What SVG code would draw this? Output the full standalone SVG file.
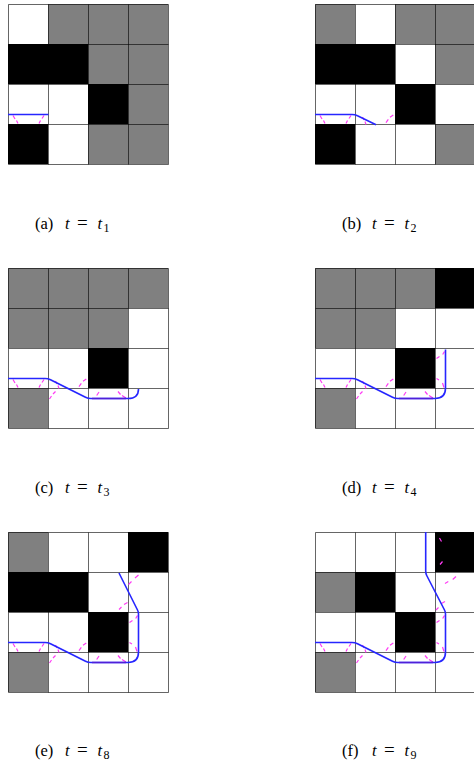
<svg xmlns="http://www.w3.org/2000/svg" width="474" height="761" viewBox="0 0 474 761">
<style>
.bg{fill:#fff}
.g{fill:#808080}
.k{fill:#000}
.grid{fill:none;stroke:#000;stroke-opacity:0.6;stroke-width:1}
.path{fill:none;stroke:#2626ff;stroke-width:1.6;stroke-linejoin:round;stroke-linecap:butt}
.pb{fill:none;stroke:#5020d8;stroke-width:1.6}
.m{fill:none;stroke:#ff3cf4;stroke-width:1.2}
.lbl{font-family:"Liberation Serif","Times New Roman",serif;font-size:16.5px;fill:#000}
.it{font-style:italic}
.eq{font-size:19px}
.sub{font-size:12px}
</style>
<defs>
<path id="gridlines" class="grid" d="M0.5,0.5 H160.5 M0.5,40.5 H160.5 M0.5,80.5 H160.5 M0.5,120.5 H160.5 M0.5,160.5 H160.5 M0.5,0.5 V160.5 M40.5,0.5 V160.5 M80.5,0.5 V160.5 M120.5,0.5 V160.5 M160.5,0.5 V160.5"/>
<path id="mA" class="m" d="M5,111.5 L7,115 M8.5,116.5 L10,119.5 M31,119.5 L32.5,116.5 M34,114.5 L36,111.5"/>
<path id="mB" class="m" d="M47.5,113 L49,116 M50,117.5 L51,120.5 M71,118.7 L73.3,115.3 M75,113.3 L78.3,111"/>
<path id="mC" class="m" d="M41.5,131 L43.5,128 M45,126 L47.5,123.5 M88.7,127.5 L91,124 M110,123.5 L112.5,126.5 M114,127.5 L118,130"/>
<path id="mD" class="m" d="M121.5,90.5 L124.5,88.5 M127.7,86.5 L129.5,83.5 M121.5,110.5 L124,112 M127.5,115 L129,119.5"/>
</defs>

<g id="frame-a" transform="translate(8,4)">
<rect class="bg" x="0" y="0" width="160" height="160"/>
<rect class="g" x="40" y="0" width="120" height="40"/>
<rect class="k" x="0" y="40" width="80" height="40"/>
<rect class="g" x="80" y="40" width="80" height="40"/>
<rect class="k" x="80" y="80" width="40" height="40"/>
<rect class="g" x="120" y="80" width="40" height="40"/>
<rect class="k" x="0" y="120" width="40" height="40"/>
<rect class="g" x="80" y="120" width="80" height="40"/>
<use href="#gridlines"/>
<g class="connectors">
<use href="#mA"/>
<path class="path" d="M0,110.5 H40.5"/>
</g>
</g>

<g id="frame-b" transform="translate(315,4)">
<rect class="bg" x="0" y="0" width="160" height="160"/>
<rect class="g" x="0" y="0" width="40" height="40"/>
<rect class="g" x="80" y="0" width="80" height="40"/>
<rect class="k" x="0" y="40" width="80" height="40"/>
<rect class="g" x="120" y="40" width="40" height="40"/>
<rect class="k" x="80" y="80" width="40" height="40"/>
<rect class="k" x="0" y="120" width="40" height="40"/>
<rect class="g" x="120" y="120" width="40" height="40"/>
<use href="#gridlines"/>
<g class="connectors">
<use href="#mA"/>
<use href="#mB"/>
<path class="path" d="M0,110.5 H37 Q40,110.5 42.5,111.8 L61,120.8"/>
</g>
</g>

<g id="frame-c" transform="translate(8,268)">
<rect class="bg" x="0" y="0" width="160" height="160"/>
<rect class="g" x="0" y="0" width="160" height="40"/>
<rect class="g" x="0" y="40" width="120" height="40"/>
<rect class="k" x="80" y="80" width="40" height="40"/>
<rect class="g" x="0" y="120" width="40" height="40"/>
<use href="#gridlines"/>
<g class="connectors">
<use href="#mA"/>
<use href="#mB"/>
<use href="#mC"/>
<path class="path" d="M0,110.5 H37 Q40,110.5 42.5,111.8 L77.5,129.2 Q80,130.5 83,130.5 H120 Q130.5,130.5 130.5,121"/>
<path class="pb" d="M84,130.5 H118"/>
</g>
</g>

<g id="frame-d" transform="translate(315,268)">
<rect class="bg" x="0" y="0" width="160" height="160"/>
<rect class="g" x="0" y="0" width="120" height="40"/>
<rect class="k" x="120" y="0" width="40" height="40"/>
<rect class="g" x="0" y="40" width="80" height="40"/>
<rect class="k" x="80" y="80" width="40" height="40"/>
<rect class="g" x="0" y="120" width="40" height="40"/>
<use href="#gridlines"/>
<g class="connectors">
<use href="#mA"/>
<use href="#mB"/>
<use href="#mC"/>
<use href="#mD"/>
<path class="path" d="M0,110.5 H37 Q40,110.5 42.5,111.8 L77.5,129.2 Q80,130.5 83,130.5 H120 Q130.5,130.5 130.5,120 V81.5"/>
<path class="pb" d="M84,130.5 H118"/>
</g>
</g>

<g id="frame-e" transform="translate(8,532)">
<rect class="bg" x="0" y="0" width="160" height="160"/>
<rect class="g" x="0" y="0" width="40" height="40"/>
<rect class="k" x="120" y="0" width="40" height="40"/>
<rect class="k" x="0" y="40" width="80" height="40"/>
<rect class="k" x="80" y="80" width="40" height="40"/>
<rect class="g" x="0" y="120" width="40" height="40"/>
<use href="#gridlines"/>
<g class="connectors">
<use href="#mA"/>
<use href="#mB"/>
<use href="#mC"/>
<use href="#mD"/>
<path class="m" d="M111,77.5 L113.5,75 M116,72.5 L119.5,70.5 M120.5,52.5 L123.5,49.5 M127,46 L130.5,43"/>
<path class="path" d="M0,110.5 H37 Q40,110.5 42.5,111.8 L77.5,129.2 Q80,130.5 83,130.5 H120 Q130.5,130.5 130.5,120 V82 Q130.5,80 129.5,78 L111,41"/>
<path class="pb" d="M84,130.5 H118"/>
</g>
</g>

<g id="frame-f" transform="translate(315,532)">
<rect class="bg" x="0" y="0" width="160" height="160"/>
<rect class="k" x="120" y="0" width="40" height="40"/>
<rect class="g" x="0" y="40" width="40" height="40"/>
<rect class="k" x="40" y="40" width="40" height="40"/>
<rect class="k" x="80" y="80" width="40" height="40"/>
<rect class="g" x="0" y="120" width="40" height="40"/>
<use href="#gridlines"/>
<g class="connectors">
<use href="#mA"/>
<use href="#mB"/>
<use href="#mC"/>
<use href="#mD"/>
<path class="m" d="M121,78 L123.5,75.5 M126.5,71.5 L130,69.5 M130,51.5 L133.3,49.5 M137.7,47.5 L141,44.5 M124.5,6 L126.5,9.5 M125,32.5 L127.5,29.5"/>
<path class="path" d="M0,110.5 H37 Q40,110.5 42.5,111.8 L77.5,129.2 Q80,130.5 83,130.5 H120 Q130.5,130.5 130.5,120 V82 Q130.5,80 129.5,78 L111.7,43.5 Q110.7,41.5 110.7,39 V0"/>
<path class="pb" d="M84,130.5 H118"/>
</g>
</g>

<g id="label-a"><text class="lbl" y="228.5"><tspan x="35">(a)</tspan><tspan class="it" x="65">t</tspan><tspan class="eq" x="77">=</tspan><tspan class="it" x="97.5">t</tspan><tspan class="sub" x="103.5" dy="3">1</tspan></text></g>
<g id="label-b"><text class="lbl" y="228.5"><tspan x="342">(b)</tspan><tspan class="it" x="372">t</tspan><tspan class="eq" x="384">=</tspan><tspan class="it" x="404.5">t</tspan><tspan class="sub" x="410.5" dy="3">2</tspan></text></g>
<g id="label-c"><text class="lbl" y="492.5"><tspan x="35">(c)</tspan><tspan class="it" x="65">t</tspan><tspan class="eq" x="77">=</tspan><tspan class="it" x="97.5">t</tspan><tspan class="sub" x="103.5" dy="3">3</tspan></text></g>
<g id="label-d"><text class="lbl" y="492.5"><tspan x="342">(d)</tspan><tspan class="it" x="372">t</tspan><tspan class="eq" x="384">=</tspan><tspan class="it" x="404.5">t</tspan><tspan class="sub" x="410.5" dy="3">4</tspan></text></g>
<g id="label-e"><text class="lbl" y="756"><tspan x="35">(e)</tspan><tspan class="it" x="65">t</tspan><tspan class="eq" x="77">=</tspan><tspan class="it" x="97.5">t</tspan><tspan class="sub" x="103.5" dy="3">8</tspan></text></g>
<g id="label-f"><text class="lbl" y="756"><tspan x="342">(f)</tspan><tspan class="it" x="372">t</tspan><tspan class="eq" x="384">=</tspan><tspan class="it" x="404.5">t</tspan><tspan class="sub" x="410.5" dy="3">9</tspan></text></g>
</svg>
